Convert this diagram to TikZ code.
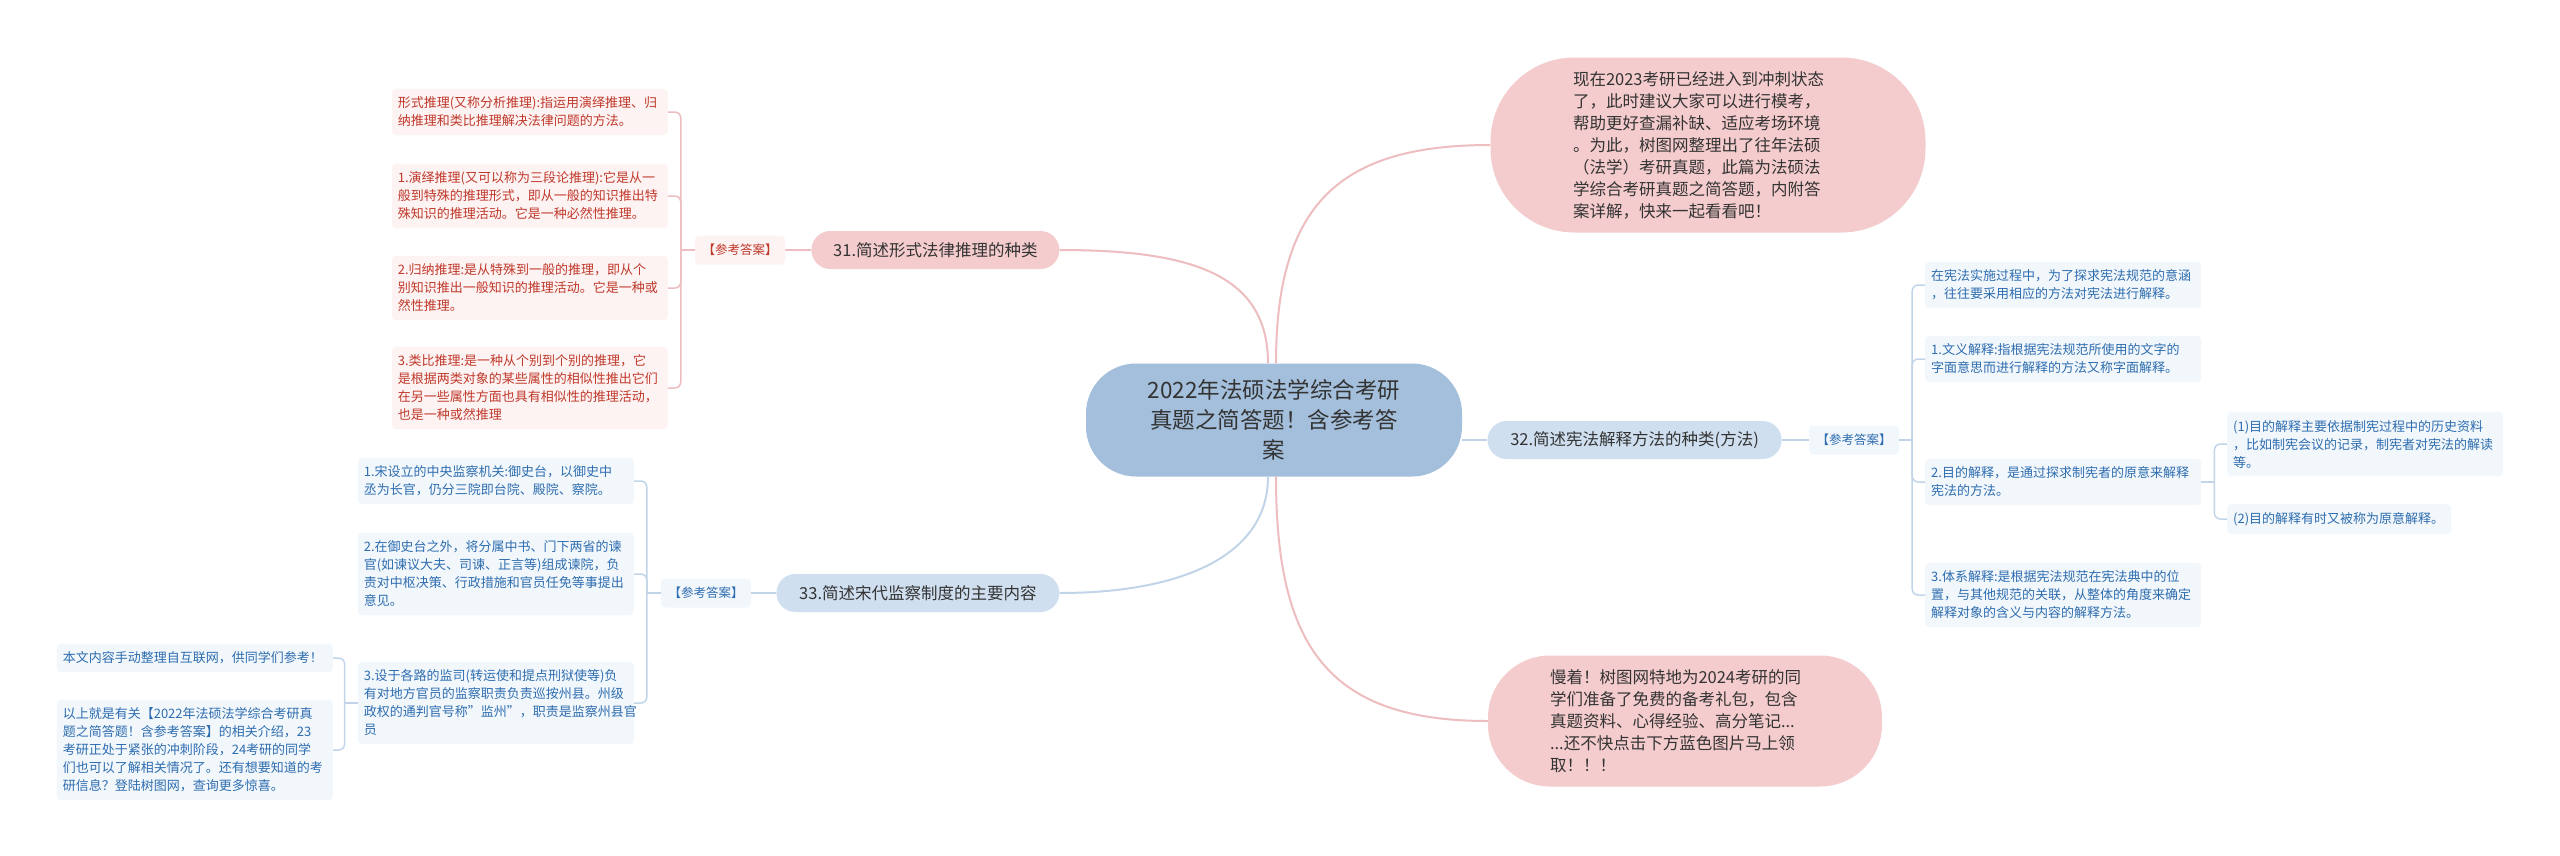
\documentclass[tikz,border=0pt]{standalone}
\usepackage{fontspec}
\setmainfont{Noto Sans CJK SC}
\usetikzlibrary{positioning}
\definecolor{rootfill}{HTML}{A3BFDB}
\definecolor{bluefill}{HTML}{CFDFEF}
\definecolor{pinkfill}{HTML}{F5CCCE}
\definecolor{redleaf}{HTML}{FDF3F3}
\definecolor{blueleaf}{HTML}{F2F7FC}
\definecolor{redtext}{HTML}{C0392B}
\definecolor{bluetext}{HTML}{2E6DAF}
\definecolor{redline}{HTML}{EDBDC0}
\definecolor{blueline}{HTML}{C2D5E8}
\definecolor{darktext}{HTML}{333333}
\tikzstyle{root}=[rectangle,rounded corners=50pt,fill=rootfill,align=center,minimum width=376pt,minimum height=113pt,text=darktext,font=\fontsize{22.5}{30}\selectfont]
\tikzstyle{topic}=[rectangle,rounded corners=19pt,align=center,minimum height=38pt,text=darktext,font=\fontsize{16.5}{20}\selectfont]
\tikzstyle{note}=[rectangle,fill=pinkfill,align=left,text width=270pt,text=darktext,font=\fontsize{16.5}{22}\selectfont]
\tikzstyle{tag}=[rectangle,rounded corners=4pt,minimum width=90pt,minimum height=29pt,font=\fontsize{12.5}{15}\selectfont]
\tikzstyle{leaf}=[rectangle,rounded corners=4pt,align=left,text width=264pt,inner xsep=6pt,inner ysep=8pt,font=\fontsize{13}{18}\selectfont]
\tikzstyle{rleaf}=[leaf,fill=redleaf,text=redtext]
\tikzstyle{bleaf}=[leaf,fill=blueleaf,text=bluetext]
\tikzstyle{rlink}=[draw=redline,line width=1.5pt,rounded corners=6pt]
\tikzstyle{blink}=[draw=blueline,line width=1.5pt,rounded corners=6pt]

\begin{document}
\begin{tikzpicture}[x=1pt,y=-1pt]
\path[use as bounding box,fill=white] (0,0) rectangle (2560,855);
\node[root] (root) at (1274,420) {2022年法硕法学综合考研\\真题之简答题！含参考答\\案};
\node[note,rounded corners=84pt,minimum width=435pt,minimum height=175pt] (intro) at (1708,145) {现在2023考研已经进入到冲刺状态\\了，此时建议大家可以进行模考，\\帮助更好查漏补缺、适应考场环境\\。为此，树图网整理出了往年法硕\\（法学）考研真题，此篇为法硕法\\学综合考研真题之简答题，内附答\\案详解，快来一起看看吧！};
\node[note,rounded corners=62pt,minimum width=394pt,minimum height=131pt] (gift) at (1685,721) {慢着！树图网特地为2024考研的同\\学们准备了免费的备考礼包，包含\\真题资料、心得经验、高分笔记...\\...还不快点击下方蓝色图片马上领\\取！！！};

\node[tag,fill=redleaf,text=redtext] (tag31) at (740,250) {【参考答案】};
\node[topic,fill=pinkfill,minimum width=248pt,right=26pt of tag31] (n31) {31.简述形式法律推理的种类};
\node[tag,fill=blueleaf,text=bluetext] (tag32) at (1854,440) {【参考答案】};
\node[topic,fill=bluefill,minimum width=294pt,left=27pt of tag32] (n32) {32.简述宪法解释方法的种类(方法)};
\node[tag,fill=blueleaf,text=bluetext] (tag33) at (706,593) {【参考答案】};
\node[topic,fill=bluefill,minimum width=283pt,right=25pt of tag33] (n33) {33.简述宋代监察制度的主要内容};

\node[rleaf,anchor=east] (a1) at (668,112) {形式推理(又称分析推理):指运用演绎推理、归\\纳推理和类比推理解决法律问题的方法。};
\node[rleaf,anchor=east] (a2) at (668,196) {1.演绎推理(又可以称为三段论推理):它是从一\\般到特殊的推理形式，即从一般的知识推出特\\殊知识的推理活动。它是一种必然性推理。};
\node[rleaf,anchor=east] (a3) at (668,288) {2.归纳推理:是从特殊到一般的推理，即从个\\别知识推出一般知识的推理活动。它是一种或\\然性推理。};
\node[rleaf,anchor=east] (a4) at (668,388) {3.类比推理:是一种从个别到个别的推理，它\\是根据两类对象的某些属性的相似性推出它们\\在另一些属性方面也具有相似性的推理活动，\\也是一种或然推理};

\node[bleaf,anchor=west] (b1) at (1925,285) {在宪法实施过程中，为了探求宪法规范的意涵\\，往往要采用相应的方法对宪法进行解释。};
\node[bleaf,anchor=west] (b2) at (1925,359) {1.文义解释:指根据宪法规范所使用的文字的\\字面意思而进行解释的方法又称字面解释。};
\node[bleaf,anchor=west] (b3) at (1925,482) {2.目的解释，是通过探求制宪者的原意来解释\\宪法的方法。};
\node[bleaf,anchor=west] (b4) at (1925,595) {3.体系解释:是根据宪法规范在宪法典中的位\\置，与其他规范的关联，从整体的角度来确定\\解释对象的含义与内容的解释方法。};
\node[bleaf,anchor=west] (b31) at (2227,444) {(1)目的解释主要依据制宪过程中的历史资料\\，比如制宪会议的记录，制宪者对宪法的解读\\等。};
\node[bleaf,anchor=west,text width=212pt] (b32) at (2227,519) {(2)目的解释有时又被称为原意解释。};

\node[bleaf,anchor=east] (c1) at (634,481) {1.宋设立的中央监察机关:御史台，以御史中\\丞为长官，仍分三院即台院、殿院、察院。};
\node[bleaf,anchor=east] (c2) at (634,574) {2.在御史台之外，将分属中书、门下两省的谏\\官(如谏议大夫、司谏、正言等)组成谏院，负\\责对中枢决策、行政措施和官员任免等事提出\\意见。};
\node[bleaf,anchor=east] (c3) at (634,703) {3.设于各路的监司(转运使和提点刑狱使等)负\\有对地方官员的监察职责负责巡按州县。州级\\政权的通判官号称"监州"，职责是监察州县官\\员};
\node[bleaf,anchor=east] (c31) at (333,658) {本文内容手动整理自互联网，供同学们参考！};
\node[bleaf,anchor=east] (c32) at (333,750) {以上就是有关【2022年法硕法学综合考研真\\题之简答题！含参考答案】的相关介绍，23\\考研正处于紧张的冲刺阶段，24考研的同学\\们也可以了解相关情况了。还有想要知道的考\\研信息？登陆树图网，查询更多惊喜。};

\coordinate[left=14pt of tag31.west] (j31);
\coordinate[right=13pt of tag32.east] (j32);
\coordinate[right=13pt of b3.east] (j3b);
\coordinate[left=14pt of tag33.west] (j33);
\coordinate[left=13pt of c3.west] (j3c);

\draw[rlink,line width=2pt] ([xshift=-6pt]root.north) .. controls +(0,-90) and +(130,0) .. (n31.east);
\draw[rlink,line width=2pt] ([xshift=2pt]root.north) .. controls +(0,-160) and +(-150,0) .. (intro.west);
\draw[blink,line width=2pt] (root.east |- n32.west) -- (n32.west);
\draw[blink,line width=2pt] ([xshift=-6pt]root.south) .. controls +(0,80) and +(120,0) .. (n33.east);
\draw[rlink,line width=2pt] ([xshift=2pt]root.south) .. controls +(0,170) and +(-160,0) .. (gift.west);

\draw[rlink] (n31) -- (tag31);
\draw[rlink] (tag31) -- (j31);
\draw[rlink] (j31) |- (a1.east);
\draw[rlink] (j31) |- (a2.east);
\draw[rlink] (j31) |- (a3.east);
\draw[rlink] (j31) |- (a4.east);

\draw[blink] (n32) -- (tag32);
\draw[blink] (tag32) -- (j32);
\draw[blink] (j32) |- (b1.west);
\draw[blink] (j32) |- (b2.west);
\draw[blink] (j32) |- (b3.west);
\draw[blink] (j32) |- (b4.west);
\draw[blink] (b3) -- (j3b);
\draw[blink] (j3b) |- (b31.west);
\draw[blink] (j3b) |- (b32.west);

\draw[blink] (n33) -- (tag33);
\draw[blink] (tag33) -- (j33);
\draw[blink] (j33) |- (c1.east);
\draw[blink] (j33) |- (c2.east);
\draw[blink] (j33) |- (c3.east);
\draw[blink] (c3) -- (j3c);
\draw[blink] (j3c) |- (c31.east);
\draw[blink] (j3c) |- (c32.east);
\end{tikzpicture}
\end{document}
